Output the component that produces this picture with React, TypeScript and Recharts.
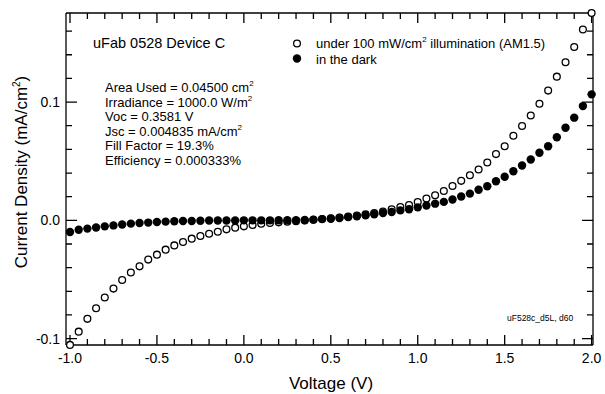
import React from "react";
import { ScatterChart, Scatter, XAxis, YAxis, ReferenceLine } from "recharts";

// bias voltage, V
const voltage = [
  -1.0, -0.95, -0.9, -0.85, -0.8, -0.75, -0.7, -0.65, -0.6, -0.55, -0.5,
  -0.45, -0.4, -0.35, -0.3, -0.25, -0.2, -0.15, -0.1, -0.05, 0.0, 0.05, 0.1,
  0.15, 0.2, 0.25, 0.3, 0.35, 0.4, 0.45, 0.5, 0.55, 0.6, 0.65, 0.7, 0.75, 0.8,
  0.85, 0.9, 0.95, 1.0, 1.05, 1.1, 1.15, 1.2, 1.25, 1.3, 1.35, 1.4, 1.45, 1.5,
  1.55, 1.6, 1.65, 1.7, 1.75, 1.8, 1.85, 1.9, 1.95, 2.0,
];

// current density under AM1.5, mA/cm2
const illuminated = [
  -0.1053, -0.0941, -0.0833, -0.0743, -0.0652, -0.0577, -0.0504, -0.0441,
  -0.0389, -0.0332, -0.029, -0.0248, -0.0212, -0.0183, -0.0155, -0.0132,
  -0.0113, -0.0096, -0.0076, -0.0062, -0.0051, -0.0039, -0.0028, -0.0022,
  -0.0017, -0.0012, -0.0007, -0.0001, 0.0005, 0.0011, 0.0017, 0.0024, 0.0031,
  0.004, 0.005, 0.0061, 0.0075, 0.0093, 0.0113, 0.013, 0.0154, 0.0184, 0.0212,
  0.0248, 0.029, 0.0334, 0.0381, 0.043, 0.0489, 0.056, 0.0627, 0.0715, 0.0797,
  0.0887, 0.0986, 0.1097, 0.1215, 0.1336, 0.1466, 0.1614, 0.1753,
];

// current density in the dark, mA/cm2
const dark = [
  -0.0099, -0.008, -0.007, -0.006, -0.0051, -0.0043, -0.0035, -0.0028,
  -0.0023, -0.0019, -0.0014, -0.0011, -0.0008, -0.0006, -0.0005, -0.0003,
  -0.0002, -0.0002, -0.0001, -0.0001, 0.0, 0.0, 0.0, 0.0, 0.0001, 0.0001,
  0.0002, 0.0003, 0.0006, 0.001, 0.0014, 0.002, 0.0027, 0.0035, 0.0042,
  0.0051, 0.0062, 0.0071, 0.0084, 0.0094, 0.011, 0.0125, 0.0141, 0.0156,
  0.0176, 0.0201, 0.0226, 0.0258, 0.0288, 0.033, 0.0368, 0.0415, 0.0464,
  0.0514, 0.0571, 0.0627, 0.0703, 0.0783, 0.0868, 0.0966, 0.1065,
];

const xTicks = [
  -1.0, -0.9, -0.8, -0.7, -0.6, -0.5, -0.4, -0.3, -0.2, -0.1, 0.0, 0.1, 0.2,
  0.3, 0.4, 0.5, 0.6, 0.7, 0.8, 0.9, 1.0, 1.1, 1.2, 1.3, 1.4, 1.5, 1.6, 1.7,
  1.8, 1.9, 2.0,
];
const xMajor = [-1.0, -0.5, 0.0, 0.5, 1.0, 1.5, 2.0];

const yTicks = [
  -0.1, -0.08, -0.06, -0.04, -0.02, 0.0, 0.02, 0.04, 0.06, 0.08, 0.1, 0.12,
  0.14, 0.16,
];
const yMajor = [-0.1, 0.0, 0.1];

const infoLines = [
  ["Area Used = 0.04500 cm", "2"],
  ["Irradiance = 1000.0 W/m", "2"],
  ["Voc = 0.3581 V", ""],
  ["Jsc = 0.004835 mA/cm", "2"],
  ["Fill Factor = 19.3%", ""],
  ["Efficiency = 0.000333%", ""],
];

const W = 605;
const H = 394;
const X_DOMAIN = [-1.023, 2.008];
const Y_DOMAIN = [-0.1054, 0.1753];
const FONT = '"Liberation Sans", Arial, Helvetica, sans-serif';

if (typeof document !== "undefined") document.body.style.margin = "0";

const lightPts = voltage.map((v, i) => ({ x: v, y: illuminated[i] }));
const darkPts = voltage.map((v, i) => ({ x: v, y: dark[i] }));

const isMajor = (list: number[], v: number) =>
  list.some((m) => Math.abs(m - v) < 1e-9);

// inward tick marks on both ends of a full-height / full-width reference line
const vTick = (len: number) => (p: any) => {
  const top = Math.min(p.y1, p.y2);
  const bot = Math.max(p.y1, p.y2);
  return (
    <path
      d={`M${p.x1},${bot}V${bot - len}M${p.x1},${top}V${top + len}`}
      stroke="#000"
      strokeWidth={1.3}
      fill="none"
    />
  );
};
const hTick = (len: number) => (p: any) => {
  const l = Math.min(p.x1, p.x2);
  const r = Math.max(p.x1, p.x2);
  return (
    <path
      d={`M${l},${p.y1}H${l + len}M${r},${p.y1}H${r - len}`}
      stroke="#000"
      strokeWidth={1.3}
      fill="none"
    />
  );
};

function xLabel(p: any) {
  if (!isMajor(xMajor, p.payload.value)) return <g />;
  return (
    <text x={p.x} y={p.y + 18} textAnchor="middle" fontSize={14} fontFamily={FONT} fill="#000">
      {p.payload.value.toFixed(1)}
    </text>
  );
}

function yLabel(p: any) {
  if (!isMajor(yMajor, p.payload.value)) return <g />;
  return (
    <text x={p.x - 6} y={p.y + 5} textAnchor="end" fontSize={14} fontFamily={FONT} fill="#000">
      {p.payload.value.toFixed(1)}
    </text>
  );
}

const OpenDot = (p: any) => (
  <circle cx={p.cx} cy={p.cy} r={3.4} fill="#fff" stroke="#000" strokeWidth={1.3} />
);
const FilledDot = (p: any) => <circle cx={p.cx} cy={p.cy} r={4.2} fill="#000" />;

function Annotations() {
  return (
    <svg
      width={W}
      height={H}
      style={{ position: "absolute", left: 0, top: 0, pointerEvents: "none" }}
    >
      <g fontFamily={FONT} fill="#000">
        <text x={93} y={48} fontSize={14.5}>uFab 0528 Device C</text>
        {infoLines.map(([txt, sup], i) => (
          <text key={i} x={105} y={92 + i * 14.5} fontSize={13}>
            {txt}
            {sup && (
              <tspan fontSize={8} dy={-6}>
                {sup}
              </tspan>
            )}
          </text>
        ))}
        <circle cx={297} cy={43.5} r={3.4} fill="#fff" stroke="#000" strokeWidth={1.3} />
        <text x={316} y={48} fontSize={13}>
          under 100 mW/cm<tspan fontSize={8} dy={-6}>2</tspan>
          <tspan dy={6}> illumination (AM1.5)</tspan>
        </text>
        <circle cx={297} cy={58.5} r={4.2} fill="#000" />
        <text x={316} y={63.5} fontSize={13}>in the dark</text>
        <text x={507} y={321} fontSize={8.5}>uF528c_d5L, d60</text>
        <text x={331} y={389} fontSize={17} textAnchor="middle">Voltage (V)</text>
        <text x={27} y={172} fontSize={17} textAnchor="middle" transform="rotate(-90 27 172)">
          Current Density (mA/cm<tspan fontSize={10} dy={-7}>2</tspan>
          <tspan dy={7}>)</tspan>
        </text>
      </g>
    </svg>
  );
}

export default function App() {
  return (
    <div style={{ position: "relative", width: W, height: H, background: "#fff" }}>
      <ScatterChart width={W} height={H} margin={{ top: 12, right: 11, bottom: 0, left: 0 }}>
        <XAxis
          xAxisId="b"
          type="number"
          dataKey="x"
          domain={X_DOMAIN}
          ticks={xTicks}
          interval={0}
          height={49}
          tickSize={0}
          tickMargin={0}
          tickLine={false}
          axisLine={{ stroke: "#000", strokeWidth: 1.3 }}
          tick={xLabel}
        />
        <XAxis
          xAxisId="t"
          orientation="top"
          type="number"
          domain={X_DOMAIN}
          height={1}
          tick={false}
          tickLine={false}
          axisLine={{ stroke: "#000", strokeWidth: 1.3 }}
        />
        <YAxis
          yAxisId="l"
          type="number"
          dataKey="y"
          domain={Y_DOMAIN}
          ticks={yTicks}
          interval={0}
          width={66}
          tickSize={0}
          tickMargin={0}
          tickLine={false}
          axisLine={{ stroke: "#000", strokeWidth: 1.3 }}
          tick={yLabel}
        />
        <YAxis
          yAxisId="r"
          orientation="right"
          type="number"
          domain={Y_DOMAIN}
          width={1}
          tick={false}
          tickLine={false}
          axisLine={{ stroke: "#000", strokeWidth: 1.3 }}
        />
        {xTicks.map((v) => (
          <ReferenceLine
            key={`xt${v}`}
            xAxisId="b"
            yAxisId="l"
            x={v}
            shape={vTick(isMajor(xMajor, v) ? 10 : 6)}
          />
        ))}
        {yTicks.map((v) => (
          <ReferenceLine
            key={`yt${v}`}
            xAxisId="b"
            yAxisId="l"
            y={v}
            shape={hTick(isMajor(yMajor, v) ? 11 : 6)}
          />
        ))}
        <Scatter
          xAxisId="b"
          yAxisId="l"
          data={lightPts}
          shape={OpenDot}
          isAnimationActive={false}
        />
        <Scatter
          xAxisId="b"
          yAxisId="l"
          data={darkPts}
          shape={FilledDot}
          isAnimationActive={false}
        />
      </ScatterChart>
      <Annotations />
    </div>
  );
}
